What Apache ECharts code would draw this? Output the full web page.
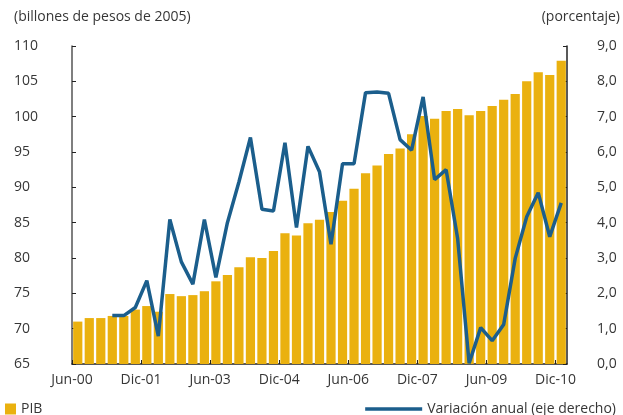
<!DOCTYPE html>
<html>
<head>
<meta charset="utf-8">
<title>PIB</title>
<script src="https://cdn.jsdelivr.net/npm/echarts@6/dist/echarts.min.js"></script>
<style>
html, body { margin: 0; padding: 0; background: #fff; }
#chart { width: 623px; height: 415px; }
</style>
</head>
<body>
<div id="chart"></div>
<script>
// trimestres, jun-00 a dic-10
var categorias = [
	'Jun-00', 'Sep-00', 'Dic-00',
	'Mar-01', 'Jun-01', 'Sep-01', 'Dic-01',
	'Mar-02', 'Jun-02', 'Sep-02', 'Dic-02',
	'Mar-03', 'Jun-03', 'Sep-03', 'Dic-03',
	'Mar-04', 'Jun-04', 'Sep-04', 'Dic-04',
	'Mar-05', 'Jun-05', 'Sep-05', 'Dic-05',
	'Mar-06', 'Jun-06', 'Sep-06', 'Dic-06',
	'Mar-07', 'Jun-07', 'Sep-07', 'Dic-07',
	'Mar-08', 'Jun-08', 'Sep-08', 'Dic-08',
	'Mar-09', 'Jun-09', 'Sep-09', 'Dic-09',
	'Mar-10', 'Jun-10', 'Sep-10', 'Dic-10'
];
// etiquetas del eje x, una cada 6 trimestres
var etiquetasX = ['Jun-00', 'Dic-01', 'Jun-03', 'Dic-04', 'Jun-06', 'Dic-07', 'Jun-09', 'Dic-10'];

var pib = [
	71.0, 71.5, 71.5,
	71.8, 71.8, 72.7, 73.2,
	72.4, 74.9, 74.6, 74.75,
	75.3, 76.7, 77.6, 78.7,
	80.1, 80.0, 81.0, 83.5,
	83.2, 84.9, 85.4, 86.5,
	88.1, 89.8, 92.0, 93.1,
	94.7, 95.5, 97.5, 100.1,
	99.7, 100.8, 101.1, 100.2,
	100.8, 101.5, 102.4, 103.2,
	105.0, 106.3, 105.9, 107.9
];

var variacion = [
	null, null, null,
	1.37, 1.37, 1.60, 2.36,
	0.79, 4.09, 2.89, 2.26,
	4.09, 2.45, 4.0, 5.15,
	6.41, 4.38, 4.33, 6.26,
	3.86, 6.16, 5.44, 3.39,
	5.67, 5.67, 7.68, 7.70,
	7.66, 6.35, 6.05, 7.56,
	5.22, 5.50, 3.55, 0.02,
	1.03, 0.66, 1.12, 2.99,
	4.17, 4.85, 3.60, 4.56
];

var fuente = 'Open Sans';
var colorTexto = '#363636';
var azul = '#1B5E8C';

var chart = echarts.init(document.getElementById('chart'));

var option = {
	animation: false,
	textStyle: { fontFamily: fuente, color: colorTexto },
	grid: { left: 72, right: 56, top: 46, bottom: 51 },
	graphic: [
		{ type: 'text', left: 14, top: 10,
			style: { text: '(billones de pesos de 2005)', font: '14px "Open Sans"', fill: colorTexto } },
		{ type: 'text', right: 3, top: 10,
			style: { text: '(porcentaje)', font: '14px "Open Sans"', fill: colorTexto } }
	],
	legend: [
		{
			data: ['PIB'], left: 0, top: 397,
			icon: 'rect', itemWidth: 11, itemHeight: 11, itemGap: 5,
			textStyle: { fontFamily: fuente, fontSize: 14, color: colorTexto }
		},
		{
			data: ['Variación anual (eje derecho)'], right: 2, top: 397,
			icon: 'path://M0,0 L57,0 L57,3.5 L0,3.5 Z',
			itemWidth: 57, itemHeight: 3.5,
			textStyle: { fontFamily: fuente, fontSize: 14, color: colorTexto }
		}
	],
	xAxis: [
		{
			type: 'category',
			data: categorias,
			boundaryGap: true,
			axisLine: { show: true, lineStyle: { color: '#222', width: 1.5 } },
			axisTick: { show: false },
			axisLabel: { show: false }
		},
		{
			// eje de etiquetas en los bordes de cada trimestre
			type: 'value',
			position: 'bottom',
			min: 0, max: categorias.length, interval: 6,
			axisLine: { show: false },
			axisTick: { show: true, inside: true, length: 4, lineStyle: { color: '#222' } },
			splitLine: { show: false },
			axisLabel: {
				margin: 9, fontSize: 14, fontFamily: fuente, color: colorTexto,
				showMaxLabel: false,
				formatter: function (v) { return etiquetasX[v / 6] || ''; }
			}
		}
	],
	yAxis: [
		{
			type: 'value', min: 65, max: 110, interval: 5,
			axisLine: { show: true, lineStyle: { color: '#555', width: 1.5 } },
			axisTick: { show: true, inside: true, length: 4, lineStyle: { color: '#222' } },
			splitLine: { show: false },
			axisLabel: { align: 'left', margin: 58, fontSize: 14, fontFamily: fuente, color: colorTexto }
		},
		{
			type: 'value', min: 0, max: 9, interval: 1, position: 'right',
			axisLine: { show: true, lineStyle: { color: '#222', width: 1.5 } },
			axisTick: { show: true, inside: true, length: 4, lineStyle: { color: '#222' } },
			splitLine: { show: false },
			axisLabel: {
				margin: 30, fontSize: 14, fontFamily: fuente, color: colorTexto,
				formatter: function (v) { return v.toFixed(1).replace('.', ','); }
			}
		}
	],
	series: [
		{
			name: 'PIB', type: 'bar',
			xAxisIndex: 0, yAxisIndex: 0,
			data: pib,
			barCategoryGap: '20%',
			itemStyle: { color: '#EAB10F' }
		},
		{
			name: 'Variación anual (eje derecho)', type: 'line',
			xAxisIndex: 0, yAxisIndex: 1,
			data: variacion,
			symbol: 'none',
			lineStyle: { color: azul, width: 3.5 },
			itemStyle: { color: azul }
		}
	]
};

chart.setOption(option);
</script>
</body>
</html>
